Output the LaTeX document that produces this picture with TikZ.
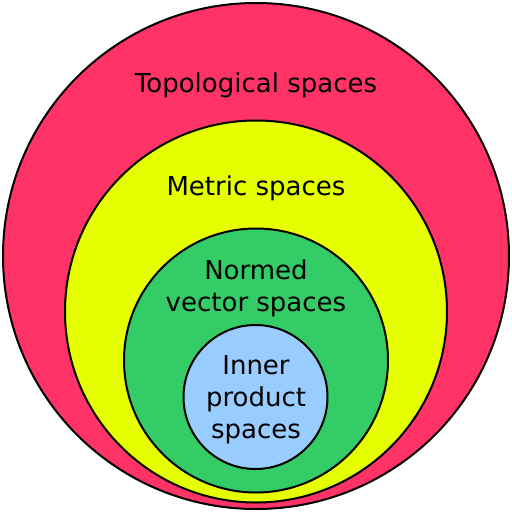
\documentclass[tikz,border=0pt]{standalone}
\usepackage{fontspec}
\setmainfont{DejaVu Sans}
\definecolor{topred}{HTML}{FF3366}
\definecolor{metyellow}{HTML}{E5FF00}
\definecolor{normgreen}{HTML}{33CC66}
\definecolor{innerblue}{HTML}{99CCFF}
\tikzset{
  set/.style={circle,draw=black,line width=2pt,inner sep=0pt},
  lbl/.style={align=center,font=\fontsize{26}{32}\selectfont}
}
\begin{document}
\begin{tikzpicture}[x=1pt,y=-1pt]
  \useasboundingbox (0,0) rectangle (512,512);
  \node[set,fill=topred,minimum size=506pt] (top) at (256,256) {};
  \node[set,fill=metyellow,minimum size=382pt] (met) at (256,311.5) {};
  \node[set,fill=normgreen,minimum size=264pt] (norm) at (256,360.5) {};
  \node[set,fill=innerblue,minimum size=144pt] (inner) at (255.5,397) {};
  \node[lbl] (toplbl) at (256,85) {Topological spaces};
  \node[lbl] (metlbl) at (256,188) {Metric spaces};
  \node[lbl] (normlbl) at (256,288) {Normed\\vector spaces};
  \node[lbl] (innerlbl) at (256,400) {Inner\\product\\spaces};
\end{tikzpicture}
\end{document}
